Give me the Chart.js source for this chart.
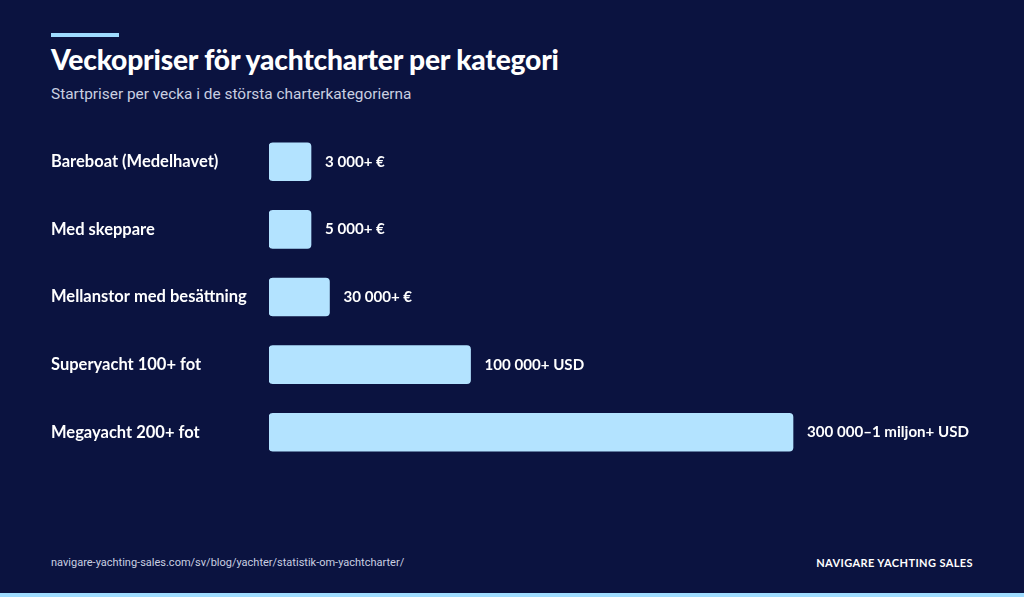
<!DOCTYPE html>
<html><head><meta charset="utf-8">
<script src="https://cdn.jsdelivr.net/npm/chart.js@4"></script>
<style>
body{margin:0;width:1024px;height:597px;background:#0b1340;overflow:hidden;font-family:Lato,sans-serif;position:relative}
.accent{position:absolute;left:51px;top:33px;width:68px;height:4px;background:#9fdcff}
h1{position:absolute;left:51px;top:42px;margin:0;color:#fff;font-size:28.2px;font-weight:900;letter-spacing:-0.2px}
.sub{position:absolute;left:51px;top:85px;color:#c9cfe0;font-family:Roboto,sans-serif;font-size:15.4px}
#wrap{position:absolute;left:0;top:115px;width:1024px;height:364px}
.src{position:absolute;left:51px;top:556px;color:#c9cfe0;font-family:Roboto,sans-serif;font-size:11px}
.brand{position:absolute;right:51px;top:556px;color:#fff;font-size:11px;font-weight:700;letter-spacing:0.4px}
.bottom{position:absolute;left:0;bottom:0;width:1024px;height:4px;background:#9fdcff}
</style></head><body>
<div class="accent"></div>
<h1>Veckopriser för yachtcharter per kategori</h1>
<div class="sub">Startpriser per vecka i de största charterkategorierna</div>
<div id="wrap"><canvas id="c" width="1024" height="364"></canvas></div>
<div class="src">navigare-yachting-sales.com/sv/blog/yachter/statistik-om-yachtcharter/</div>
<div class="brand">NAVIGARE YACHTING SALES</div>
<div class="bottom"></div>
<script>
const categories = ['Bareboat (Medelhavet)', 'Med skeppare', 'Mellanstor med besättning', 'Superyacht 100+ fot', 'Megayacht 200+ fot'];
const prices = [3000, 5000, 30000, 100000, 260000];
const priceLabels = ['3 000+ €', '5 000+ €', '30 000+ €', '100 000+ USD', '300 000–1 miljon+ USD'];

const valueLabels = {
    id: 'valueLabels',
    afterDatasetsDraw(chart) {
        const ctx = chart.ctx;
        ctx.save();
        ctx.font = 'bold 15.1px Lato';
        ctx.fillStyle = '#ffffff';
        ctx.textBaseline = 'middle';
        chart.getDatasetMeta(0).data.forEach((bar, i) => {
            ctx.fillText(priceLabels[i], bar.x + 14, bar.y);
        });
        ctx.restore();
    }
};

new Chart(document.getElementById('c'), {
    type: 'bar',
    data: {
        labels: categories,
        datasets: [{
            data: prices,
            backgroundColor: '#b3e3ff',
            borderRadius: 4,
            borderSkipped: false,
            barThickness: 38,
            minBarLength: 42
        }]
    },
    options: {
        indexAxis: 'y',
        responsive: false,
        animation: false,
        layout: { padding: { left: 51, right: 0, top: 0, bottom: 0 } },
        plugins: { legend: { display: false }, tooltip: { enabled: false } },
        scales: {
            x: { display: false, min: 0, max: 260000 / 524 * 755 },
            y: {
                grid: { display: false },
                border: { display: false },
                afterFit(s) { s.width = 218; },
                ticks: {
                    crossAlign: 'far',
                    color: '#ffffff',
                    font: { family: 'Lato', weight: 'bold', size: 16.5 }
                }
            }
        }
    },
    plugins: [valueLabels]
});
</script>
</body></html>
